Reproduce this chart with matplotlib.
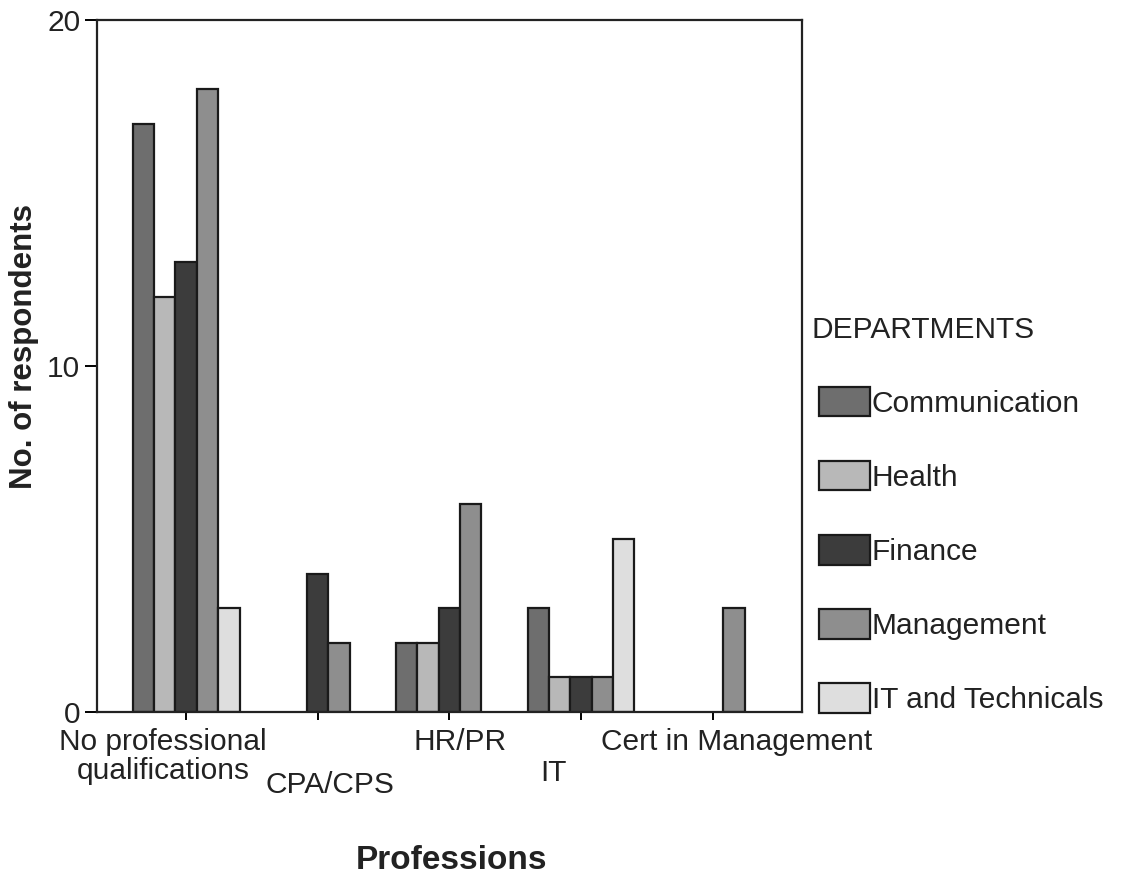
import matplotlib
matplotlib.use("Agg")
import matplotlib.pyplot as plt
import numpy as np

plt.rcParams['font.family'] = ['Liberation Sans', 'DejaVu Sans']

professions = ["No professional\nqualifications", "CPA/CPS", "HR/PR", "IT", "Cert in Management"]
departments = ["Communication", "Health", "Finance", "Management", "IT and Technicals"]
communication = [17, 0, 2, 3, 0]
health = [12, 0, 2, 1, 0]
finance = [13, 4, 3, 1, 0]
management = [18, 2, 6, 1, 3]
it_tech = [3, 0, 0, 5, 0]
series = [communication, health, finance, management, it_tech]
colors = ["#6e6e6e", "#b8b8b8", "#3c3c3c", "#8e8e8e", "#dedede"]
yticks = [0, 10, 20]

fig = plt.figure(figsize=(11.31, 8.75), dpi=100)
ax = fig.add_axes([0.0858, 0.1863, 0.6230, 0.7908])

x = np.arange(len(professions))
w = 0.1625
handles = []
for i, (vals, col, name) in enumerate(zip(series, colors, departments)):
    vals = np.array(vals, dtype=float)
    keep = vals > 0
    b = ax.bar((x + (i - 2) * w)[keep], vals[keep], width=w, color=col,
               edgecolor="#1a1a1a", linewidth=1.6, label=name)
    handles.append(b)

ax.set_xlim(-0.676, 4.676)
ax.set_ylim(0, 20)
ax.set_yticks(yticks)
ax.set_yticklabels([str(t) for t in yticks], fontsize=21.5, color="#222222")
ax.set_xticks(x)
ax.set_xticklabels([""] * len(x))
ax.tick_params(axis='y', length=9, width=1.4, pad=3, direction='out')
ax.tick_params(axis='x', length=6, width=1.4, direction='out')
for s in ax.spines.values():
    s.set_linewidth(1.6)
    s.set_color("#222222")

# staggered category labels
label_pos = [(-0.175, 0), (1.093, 1), (2.08, 0), (2.79, 1), (4.18, 0)]
for (lx, lvl), lab in zip(label_pos, professions):
    if lvl == 0:
        ax.text(lx, -0.45, lab, ha='center', va='top', fontsize=21.5,
                color="#222222", linespacing=1.05)
    else:
        ax.text(lx, -1.35 if lab == "IT" else -1.7, lab, ha='center', va='top',
                fontsize=21.5, color="#222222", linespacing=1.05)

fig.text(0.399, 0.017, "Professions", ha='center', va='center', fontsize=24,
         fontweight='bold', color="#222222")
fig.text(0.021, 0.604, "No. of respondents", ha='center', va='center', rotation=90,
         fontsize=22.5, fontweight='bold', color="#222222")

leg = fig.legend(handles=handles, labels=departments, title="DEPARTMENTS",
                 loc='upper left', bbox_to_anchor=(0.7245, 0.639), frameon=False,
                 fontsize=21.5, title_fontsize=21.5, alignment='left',
                 handlelength=1.7, handleheight=1.13, handletextpad=0.06,
                 labelspacing=1.45, borderpad=0, borderaxespad=0)
for t in leg.get_texts():
    t.set_color("#222222")
leg.get_title().set_color("#222222")
leg._legend_title_box._text.set_x(-8)

fig.savefig("out.png", dpi=100)
